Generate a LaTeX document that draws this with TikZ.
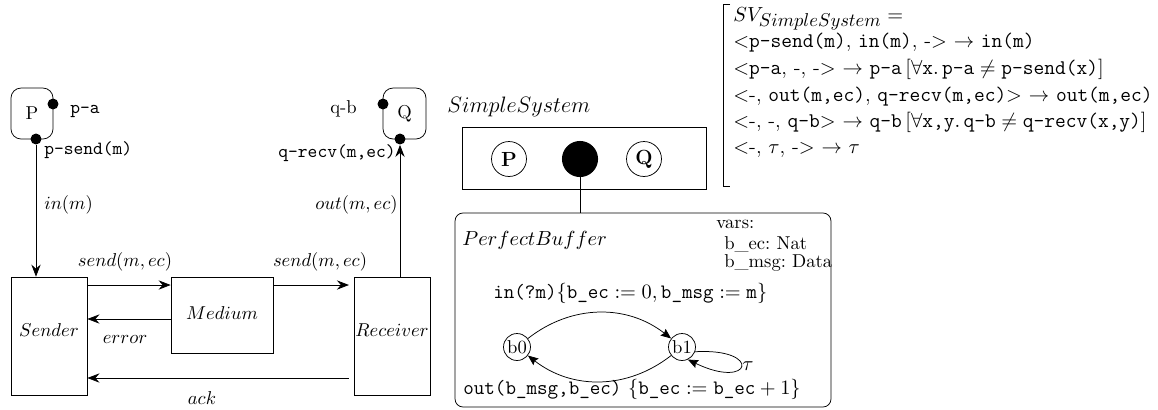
\documentclass[tikz,border=0pt]{standalone}
\usetikzlibrary{arrows.meta}
\begin{document}
\begin{tikzpicture}[x=0.5376pt,y=-0.5376pt,
  arr/.style={-{Stealth[length=6.5pt,width=5pt,inset=2.2pt]}},
  sarr/.style={-{Stealth[length=5.5pt,width=4.5pt,inset=0.8pt]}},
  blk/.style={draw, inner sep=0pt},
  dotn/.style={circle, fill, inner sep=0pt, minimum size=5.9pt},
  lbl/.style={inner sep=0pt},
  st/.style={circle, draw, inner sep=0pt, minimum size=14.5pt},
  svl/.style={inner sep=0pt, anchor=base west, font=\fontsize{11.2}{13}\selectfont},
  big/.style={font=\fontsize{11}{13}\selectfont},
]
\useasboundingbox (0,0) rectangle (1158,409);

% ---------- left part ----------
\node[blk, minimum width=40.9pt, minimum height=63.4pt, text depth=6.4pt] (sender) at (49,336) {$Sender$};
\node[blk, minimum width=54.8pt, minimum height=40.9pt, text depth=2.2pt] (medium) at (222,315) {$Medium$};
\node[blk, minimum width=40.9pt, minimum height=63.4pt, text depth=6.4pt] (receiver) at (392,336) {$Receiver$};

\node[blk, rounded corners=5.4pt, minimum width=22.6pt, minimum height=27.4pt] (pbox) at (32,113.5) {P};
\node[blk, rounded corners=5.4pt, minimum width=23.1pt, minimum height=27.4pt] (qbox) at (404.5,113.5) {Q};

\node[dotn] (pa) at (53,104) {};
\node[dotn] (psend) at (36,139) {};
\node[dotn] (qb) at (383,104) {};
\node[dotn] (qrecv) at (400,139) {};

\node[lbl, anchor=base west] (lpa) at (70,113) {\texttt{p-a}};
\node[lbl, anchor=base west] (lps) at (44,154) {\texttt{p-send(m)}};
\node[lbl, anchor=base east] (lqb) at (357,113) {q-b};
\node[lbl, anchor=base east] (lqr) at (396,157) {\texttt{q-recv(m,ec)}};
\node[lbl, anchor=west] (lin) at (44,205) {$in(m)$};
\node[lbl, anchor=east] (lout) at (398,205) {$out(m,ec)$};
\node[lbl] (ls1) at (125,262) {$send(m,ec)$};
\node[lbl] (ls2) at (320,262) {$send(m,ec)$};
\node[lbl] (ler) at (125,339) {$error$};
\node[lbl] (lack) at (202,398) {$ack$};

\draw[arr] (psend) -- (psend |- sender.north);
\draw[arr] (sender.east |- 0,285) -- (medium.west |- 0,285);
\draw[arr] (medium.west |- 0,319) -- (sender.east |- 0,319);
\draw[arr, shorten >=2.5pt] (medium.east |- 0,285) -- (receiver.west |- 0,285);
\draw[arr, shorten <=2.5pt] (receiver.west |- 0,378) -- (sender.east |- 0,378);
\draw[arr] (qrecv |- receiver.north) -- (qrecv);

% ---------- middle part ----------
\node[lbl, anchor=west, font=\fontsize{11.5}{13}\selectfont] (lss) at (447,107) {$SimpleSystem$};
\node[blk, minimum width=131.2pt, minimum height=33.3pt] (ss) at (584,158) {};
\node[circle, draw, inner sep=0pt, minimum size=18.8pt, big] (cp) at (509,159) {\textbf{P}};
\node[circle, fill, inner sep=0pt, minimum size=19.4pt] (cb) at (580,159) {};
\node[circle, draw, inner sep=0pt, minimum size=18.8pt, big] (cq) at (644,159) {\textbf{Q}};

\node[blk, rounded corners=4.3pt, minimum width=202.1pt, minimum height=104.3pt] (pb) at (643,310) {};
\draw (cb) -- (cb |- pb.north);

\node[lbl, anchor=west, big] (lpb) at (462,240) {$PerfectBuffer$};
\node[lbl, anchor=west] (lv1) at (716,224) {vars:};
\node[lbl, anchor=west] (lv2) at (724,244) {b\_ec:\ Nat};
\node[lbl, anchor=west] (lv3) at (724,263) {b\_msg:\ Data};

\node[st] (b0) at (517,347) {b0};
\node[st] (b1) at (682,347) {b1};
\draw[sarr] (b0) to[bend left=38] (b1);
\draw[sarr] (b1) to[bend left=38] (b0);
\draw[sarr] (b1.-20) .. controls +(68,-4) and +(64,31) .. (b1.-65);
\node[lbl, big] (ltau) at (748,366) {$\tau$};

\node[lbl, anchor=west, big] (lin2) at (493,293) {$\texttt{in(?m)}\{\texttt{b\_ec}:=0,\texttt{b\_msg}:=\texttt{m}\}$};
\node[lbl, anchor=west, big] (lout2) at (463,389) {\texttt{out(b\_msg,b\_ec)}~$\{\texttt{b\_ec}:=\texttt{b\_ec}+1\}$};

% ---------- right part ----------
\draw (730,4) -- (723,4) -- (723,186) -- (730,186);
\node[svl] (sv1) at (733,21) {$SV_{\mbox{\fontsize{9.7}{11}\selectfont$SimpleSystem$}} =$};
\node[svl] (sv2) at (733,47) {$<$\texttt{p-send(m)}, \texttt{in(m)}, -$>$ $\rightarrow$ \texttt{in(m)}};
\node[svl] (sv3) at (733,74) {$<$\texttt{p-a}, -, -$>$ $\rightarrow$ \texttt{p-a}\,$[\forall\texttt{x}.\,\texttt{p-a}\neq\texttt{p-send(x)}]$};
\node[svl] (sv4) at (733,101) {$<$-, \texttt{out(m,ec)}, \texttt{q-recv(m,ec)}$>$ $\rightarrow$ \texttt{out(m,ec)}};
\node[svl] (sv5) at (733,127) {$<$-, -, \texttt{q-b}$>$ $\rightarrow$ \texttt{q-b}\,$[\forall\texttt{x,y}.\,\texttt{q-b}\neq\texttt{q-recv(x,y)}]$};
\node[svl] (sv6) at (733,153) {$<$-, $\tau$, -$>$ $\rightarrow$ $\tau$};
\end{tikzpicture}
\end{document}
